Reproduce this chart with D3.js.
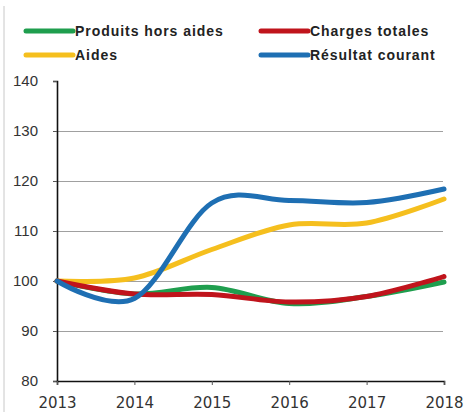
<!DOCTYPE html>
<html>
<head>
<meta charset="utf-8">
<script src="https://cdn.jsdelivr.net/npm/d3@7"></script>
<style>
  body { margin: 0; background: #fff; }
  svg { display: block; }
</style>
</head>
<body>
<script>
// data (index, base 100 = 2013)
var years = [2013, 2014, 2015, 2016, 2017, 2018];
var produitsHorsAides = [100, 97.4, 98.7, 95.5, 96.9, 99.8];
var chargesTotales = [100, 97.4, 97.3, 95.8, 96.9, 100.9];
var aides = [100, 100.6, 106.3, 111.2, 111.6, 116.4];
var resultatCourant = [100, 96.5, 115.6, 116.1, 115.7, 118.4];
var yTicks = [80, 90, 100, 110, 120, 130, 140];

var series = [
  {name: "Produits hors aides", values: produitsHorsAides, color: "#1f9e4e"},
  {name: "Aides", values: aides, color: "#f5bf1e"},
  {name: "Charges totales", values: chargesTotales, color: "#c0141c"},
  {name: "Résultat courant", values: resultatCourant, color: "#1e6fb3"}
];

var W = 464, H = 412;
var svg = d3.select("body").append("svg")
  .attr("width", W)
  .attr("height", H);

// thin frame line on the left
svg.append("line")
  .attr("x1", 4).attr("x2", 4).attr("y1", 6).attr("y2", H)
  .attr("stroke", "#c8c8c8").attr("stroke-width", 1);

var x = d3.scaleLinear().domain([2013, 2018]).range([57, 444]);
var y = d3.scaleLinear().domain([80, 140]).range([381, 81]);

// gridlines
svg.append("g")
  .selectAll("line")
  .data(yTicks.filter(d => d > 80 && d < 140))
  .enter().append("line")
  .attr("x1", x(2013)).attr("x2", x(2018) - 1)
  .attr("y1", d => y(d) + 0.5).attr("y2", d => y(d) + 0.5)
  .attr("stroke", "#a0a0a0").attr("stroke-width", 1);

// y axis
var yAxis = svg.append("g")
  .attr("transform", "translate(" + x(2013) + ",0)")
  .call(d3.axisLeft(y).tickValues(yTicks).tickSize(4).tickPadding(15));
yAxis.select(".domain").attr("stroke", "#111").attr("stroke-width", 1.6);
yAxis.selectAll(".tick line").attr("stroke", "#555");
yAxis.selectAll(".tick text")
  .style("font-family", "'Liberation Sans', Arial, sans-serif")
  .style("font-size", "15px")
  .attr("fill", "#333");

// x axis
var xAxis = svg.append("g")
  .attr("transform", "translate(0," + y(80) + ")")
  .call(d3.axisBottom(x).tickValues(years).tickFormat(d3.format("d")).tickSize(4).tickPadding(12));
xAxis.select(".domain").attr("stroke", "#111").attr("stroke-width", 1.6);
xAxis.selectAll(".tick line").attr("stroke", "#555");
xAxis.selectAll(".tick text")
  .style("font-family", "'DejaVu Sans', Verdana, sans-serif")
  .style("font-size", "15px")
  .attr("fill", "#333");

// smoothed lines (Excel style)
var line = d3.line()
  .x((d, i) => x(years[i]))
  .y(d => y(d))
  .curve(d3.curveCardinal.tension(0));

svg.append("g")
  .selectAll("path")
  .data(series)
  .enter().append("path")
  .attr("d", d => line(d.values))
  .attr("fill", "none")
  .attr("stroke", d => d.color)
  .attr("stroke-width", 5)
  .attr("stroke-linecap", "round");

// legend
var legendItems = [
  {s: series[0], lx: 26, ly: 31},
  {s: series[2], lx: 261, ly: 31},
  {s: series[1], lx: 26, ly: 55},
  {s: series[3], lx: 261, ly: 55}
];
var legend = svg.append("g")
  .selectAll("g")
  .data(legendItems)
  .enter().append("g")
  .attr("transform", d => "translate(" + d.lx + "," + d.ly + ")");
legend.append("line")
  .attr("x1", 0).attr("x2", 47)
  .attr("stroke", d => d.s.color)
  .attr("stroke-width", 5)
  .attr("stroke-linecap", "round");
legend.append("text")
  .attr("x", 49).attr("y", 5)
  .style("font-family", "'Liberation Sans', Arial, sans-serif")
  .style("font-size", "14px")
  .style("font-weight", "bold")
  .style("letter-spacing", "0.95px")
  .attr("fill", "#222")
  .text(d => d.s.name);
</script>
</body>
</html>
